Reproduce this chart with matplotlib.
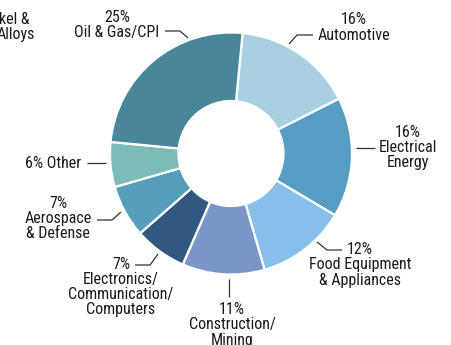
import matplotlib
matplotlib.use("Agg")
import matplotlib.pyplot as plt
from matplotlib import font_manager

W, H = 451, 345

# Market share by end-use segment, clockwise from the top
segments = ["Automotive", "Electrical\nEnergy", "Food Equipment\n& Appliances",
            "Construction/\nMining", "Electronics/\nCommunication/\nComputers",
            "Aerospace\n& Defense", "Other", "Oil & Gas/CPI"]
shares = [16, 16, 12, 11, 7, 7, 6, 25]
colors = ["#a9d0e1", "#579dc3", "#86c0ea", "#7b97c9", "#31587f",
          "#559ebb", "#7dbbb9", "#4a8699"]

names = {f.name for f in font_manager.fontManager.ttflist}
family = [f for f in ["Liberation Sans Narrow", "Roboto Condensed", "Liberation Sans"] if f in names] + ["DejaVu Sans"]
plt.rcParams["font.family"] = family

fig = plt.figure(figsize=(W / 100, H / 100), dpi=100)
ax = fig.add_axes([0, 0, 1, 1])

cx, cy, r_out, r_in = 231, H - 153.5, 121, 52.5
ax.pie(shares, colors=colors, startangle=84.5, counterclock=False,
       radius=r_out, center=(cx, cy),
       wedgeprops=dict(width=r_out - r_in, edgecolor="white", linewidth=1.6))
ax.set_xlim(0, W)
ax.set_ylim(0, H)
ax.set_aspect("equal")
ax.axis("off")


def P(x, y):
    return (x, H - y)


def label_text(i):
    return f"{shares[i]}%\n{segments[i]}"


# block centre (x, y from top) and leader polyline for each segment label
layout = [
    ((354, 27.5), [(313, 35), (297, 35), (289, 44)]),
    ((408, 147.5), [(375, 148), (356, 148)]),
    ((360, 265), [(342, 250), (327, 250), (317, 242)]),
    ((232, 325), [(229, 297), (229, 279)]),
    ((121, 287), [(135, 265), (150, 265), (158, 254)]),
    ((58, 219), [(97, 220), (112, 220), (121, 212)]),
    ((53, 163), [(87, 163), (106, 163)]),
    ((117, 25.5), [(165, 31), (180, 31), (188, 38)]),
]

fs = 11.5
for i, ((x, y), pts) in enumerate(layout):
    text = label_text(i)
    if segments[i] == "Other":
        text = f"{shares[i]}% {segments[i]}"
    ax.text(*P(x, y), text, ha="center", va="center", fontsize=fs,
            linespacing=1.0, color="#1a1a1a")
    xs = [p[0] for p in pts]
    ys = [H - p[1] for p in pts]
    ax.plot(xs, ys, color="#333333", lw=0.9, solid_capstyle="butt")

# neighbouring chart's label, running off the left edge
ax.text(*P(29, 20), "Nickel &", ha="right", va="center", fontsize=fs, color="#1a1a1a")
ax.text(*P(35, 34), "Alloys", ha="right", va="center", fontsize=fs, color="#1a1a1a")

fig.savefig("out.png", dpi=100)
